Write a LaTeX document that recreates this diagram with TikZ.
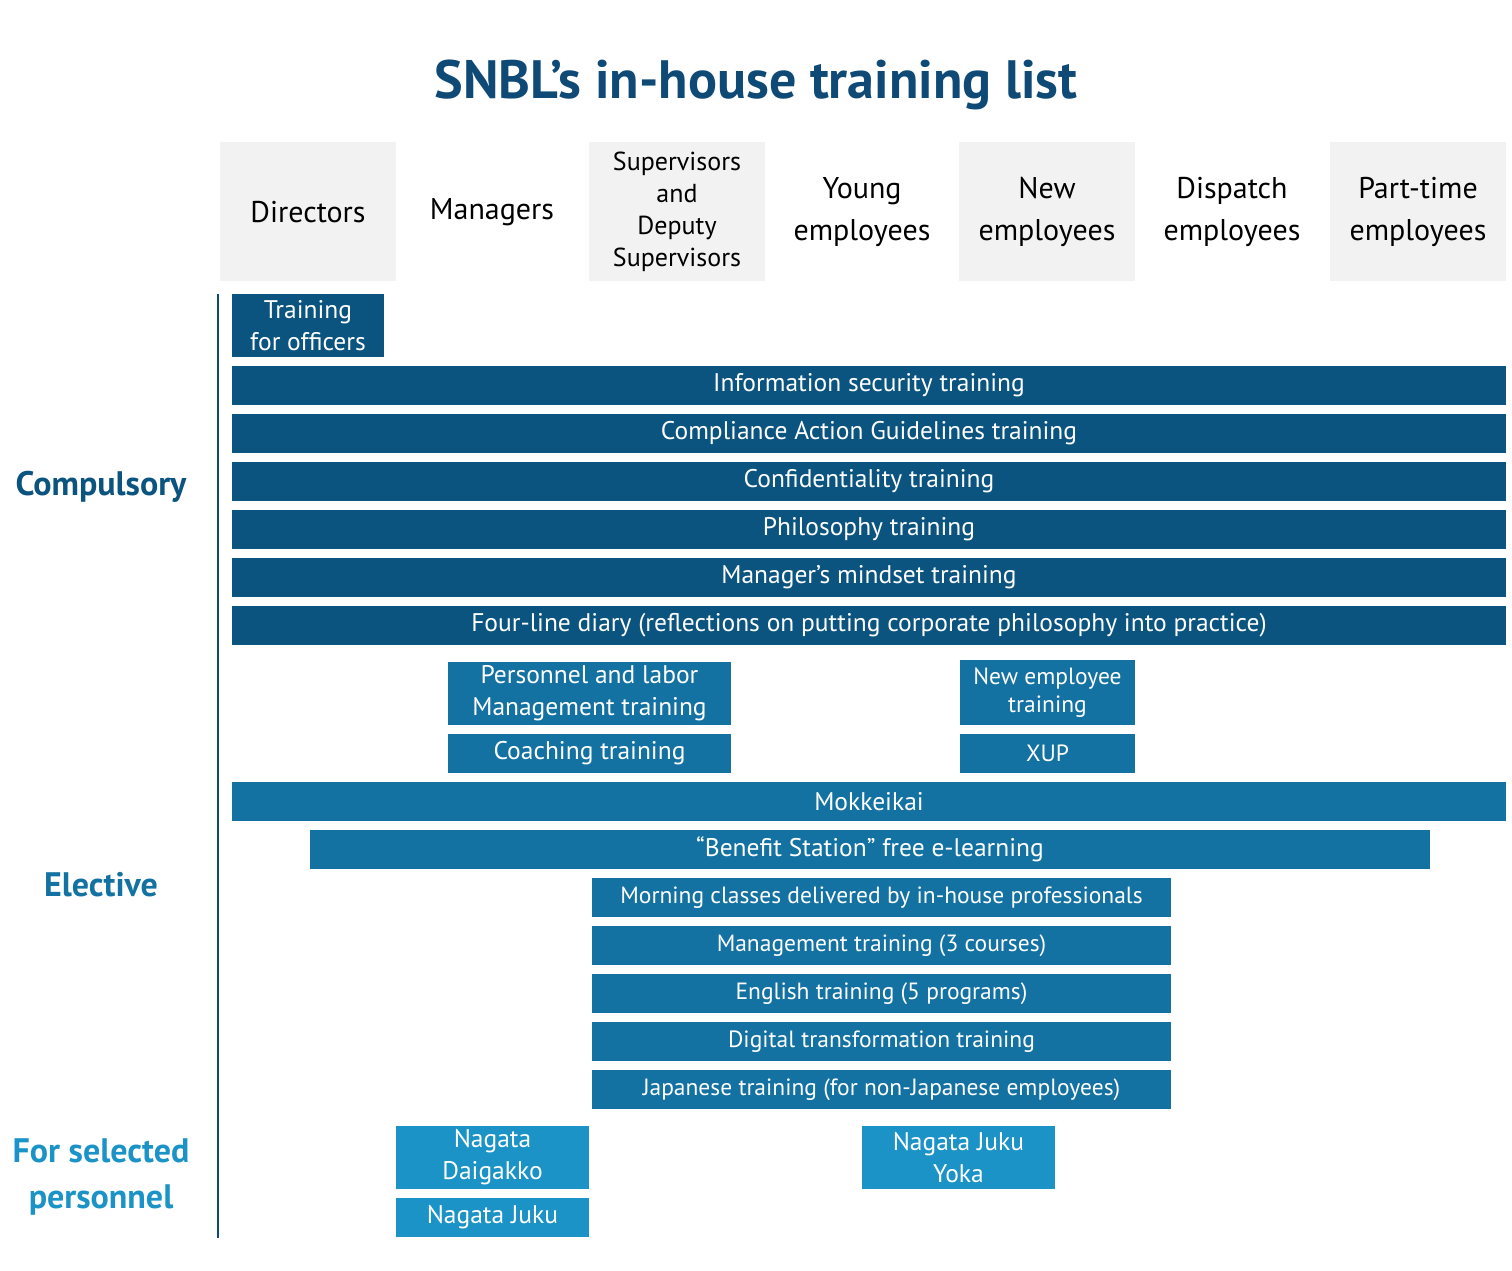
\documentclass[tikz,border=0pt]{standalone}
\usepackage{fontspec}
\setmainfont{PT Sans}
\definecolor{cA}{HTML}{0B5480}
\definecolor{cB}{HTML}{1472A3}
\definecolor{cC}{HTML}{1B93C7}
\definecolor{tt}{HTML}{0E4A75}
\definecolor{hg}{HTML}{F2F2F2}
\begin{document}
\begin{tikzpicture}[x=1pt,y=-1pt,
 hd/.style={inner sep=0pt,align=center,font=\fontsize{30}{42}\selectfont,text=black},
 bar/.style={inner sep=0pt,align=center,text=white,font=\fontsize{25.5}{32}\selectfont},
 sm/.style={font=\fontsize{23.5}{28}\selectfont},
 lab/.style={align=center,font=\bfseries\fontsize{34}{46}\selectfont}]
\useasboundingbox (0,0) rectangle (1512,1270);
\node[text=tt,font=\bfseries\fontsize{54}{60}\selectfont] (title) at (756,85) {SNBL’s in-house training list};
\fill[hg] (220,142) rectangle (396,281);
\fill[hg] (589,142) rectangle (765,281);
\fill[hg] (959,142) rectangle (1135,281);
\fill[hg] (1330,142) rectangle (1506,281);
\node[hd] (h1) at (308,212) {Directors};
\node[hd] (h2) at (492,212) {Managers};
\node[hd,font=\fontsize{26}{32}\selectfont] (h3) at (677,212) {Supervisors\\and\\Deputy\\Supervisors};
\node[hd] (h4) at (862,212) {Young\\employees};
\node[hd] (h5) at (1047,212) {New\\employees};
\node[hd] (h6) at (1232,212) {Dispatch\\employees};
\node[hd] (h7) at (1418,212) {Part-time\\employees};
\draw[tt,line width=2pt] (218,294) -- (218,1238);
\node[lab,text=cA] (l1) at (101,487) {Compulsory};
\node[lab,text=cB] (l2) at (101,885) {Elective};
\node[lab,text=cC] (l3) at (101,1177) {For selected\\personnel};
% compulsory
\node[bar,fill=cA,minimum width=152pt,minimum height=63pt] (b0) at (308,325.5) {Training\\for officers};
\foreach \y/\t [count=\i] in {385.5/Information security training,433.5/Compliance Action Guidelines training,481.5/Confidentiality training,529.5/Philosophy training,577.5/Manager’s mindset training,625.5/Four-line diary (reflections on putting corporate philosophy into practice)}
  \node[bar,fill=cA,minimum width=1274pt,minimum height=39pt] (c\i) at (869,\y) {\t};
\node[bar,fill=cB,minimum width=283pt,minimum height=63pt] (p1) at (589.5,693.5) {Personnel and labor\\Management training};
\node[bar,fill=cB,minimum width=283pt,minimum height=39pt] (p2) at (589.5,753.5) {Coaching training};
\node[bar,sm,fill=cB,minimum width=175pt,minimum height=65pt] (n1) at (1047.5,692.5) {New employee\\training};
\node[bar,sm,fill=cB,minimum width=175pt,minimum height=39pt] (n2) at (1047.5,753.5) {XUP};
% elective
\node[bar,fill=cB,minimum width=1274pt,minimum height=39pt] (e1) at (869,801.5) {Mokkeikai};
\node[bar,fill=cB,minimum width=1120pt,minimum height=39pt] (e2) at (870,849.5) {“Benefit Station” free e-learning};
\foreach \y/\t [count=\i] in {897.5/Morning classes delivered by in-house professionals,945.5/Management training (3 courses),993.5/English training (5 programs),1041.5/Digital transformation training,1089.5/Japanese training (for non-Japanese employees)}
  \node[bar,sm,fill=cB,minimum width=579pt,minimum height=39pt] (m\i) at (881.5,\y) {\t};
% selected
\node[bar,fill=cC,minimum width=193pt,minimum height=63pt] (s1) at (492.5,1157.5) {Nagata\\Daigakko};
\node[bar,fill=cC,minimum width=193pt,minimum height=39pt] (s2) at (492.5,1217.5) {Nagata Juku};
\node[bar,fill=cC,minimum width=193pt,minimum height=63pt] (s3) at (958.5,1157.5) {Nagata Juku\\Yoka};
\end{tikzpicture}
\end{document}
